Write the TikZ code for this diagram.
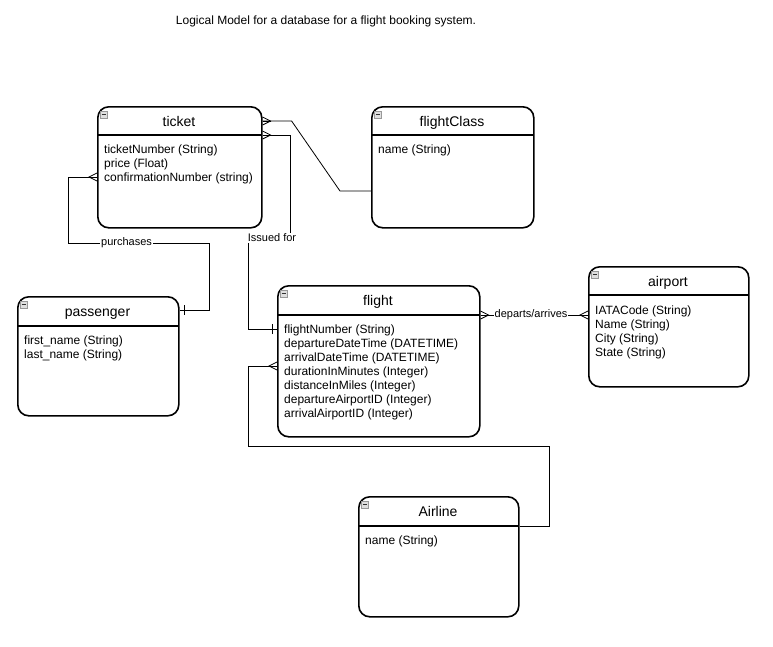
\documentclass[tikz,border=0pt]{standalone}
\usepackage{fontspec}
\setmainfont{Liberation Sans}
\usetikzlibrary{calc}
\tikzset{
  entity/.style={draw, line width=1.6pt, rounded corners=11pt, anchor=north west, inner sep=0pt},
  hdrline/.style={line width=1.6pt},
  hdrtext/.style={anchor=base, inner sep=0pt, font=\fontsize{14}{16}\selectfont},
  attr/.style={anchor=base west, inner sep=0pt, font=\fontsize{12}{14}\selectfont},
  conn/.style={line width=0.8pt},
  lbl/.style={fill=white, inner sep=1pt, font=\fontsize{11}{13}\selectfont},
  iconbox/.style={draw=gray!80, fill=gray!25, line width=0.6pt, minimum size=7pt, inner sep=0pt},
  many/.pic={\draw[line width=0.8pt] (0,0) -- (8,0); \draw[line width=0.8pt] (0,-4) -- (8,0) -- (0,4);},
  one/.pic={\draw[line width=0.8pt] (4.5,-5) -- (4.5,5);}
}
\newcommand\erbox[7]{% name, x, y, w, h, title, header height
  \node[entity, minimum width=#4pt, minimum height=#5pt] (#1) at (#2,#3) {};
  \draw[hdrline] (#2,#3+#7) -- (#2+#4,#3+#7);
  \node[hdrtext] (#1-title) at (#2+#4/2,#3+20.5) {#6};
  \node[iconbox] (#1-icon) at (#2+6.5,#3+8.5) {};
  \draw[line width=0.7pt, gray!40!black] (#2+4.5,#3+8.5) -- (#2+8.5,#3+8.5);
}
\newcommand\erattrs[4]{% name, x, first baseline, list
  \foreach \t [count=\i] in {#4} {\node[attr] (#1-r\i) at (#2,#3+14*\i-14) {\t};}
}
\begin{document}
\begin{tikzpicture}[x=1pt,y=-1pt]
\useasboundingbox (0,0) rectangle (773,646);

\node[anchor=base, inner sep=0pt, font=\fontsize{12}{14}\selectfont] (title) at (326,24.3)
  {Logical Model for a database for a flight booking system.};

\erbox{ticket}{97}{106}{164}{121}{ticket}{29}
\erattrs{ticket}{104}{153.8}{ticketNumber (String), price (Float), confirmationNumber (string)}

\erbox{flightClass}{371}{106}{162}{121}{flightClass}{29}
\erattrs{flightClass}{378}{153.8}{name (String)}

\erbox{passenger}{17}{296}{161}{119}{passenger}{30}
\erattrs{passenger}{24}{344.5}{first\_name (String), last\_name (String)}

\erbox{flight}{277}{285}{202}{151}{flight}{30}
\erattrs{flight}{284}{333.5}{flightNumber (String), departureDateTime (DATETIME), arrivalDateTime (DATETIME), durationInMinutes (Integer), distanceInMiles (Integer), departureAirportID (Integer), arrivalAirportID (Integer)}

\erbox{airport}{588}{266}{160}{120}{airport}{29}
\erattrs{airport}{595}{314.3}{IATACode (String), Name (String), City (String), State (String)}

\erbox{Airline}{358}{496}{160}{120}{Airline}{30}
\erattrs{Airline}{365}{544.5}{name (String)}

% ticket -- flightClass
\coordinate (c1a) at ($(ticket.north east)+(0,15)$);
\coordinate (c1b) at ($(flightClass.north west)+(0,85)$);
\draw[conn] (c1a) -- ++(29,0) -- ($(c1b)+(-31,0)$) -- (c1b);
\pic at (c1a) {many};

% ticket -- flight (issued for)
\coordinate (c2a) at ($(ticket.north east)+(0,29)$);
\coordinate (c2b) at ($(flight.north west)+(0,44)$);
\draw[conn] (c2a) -- ++(28,0) |- ($(c2b)+(-29,-91)$) |- (c2b);
\node[lbl] (l2) at ($(c2b)+(-5,-91)$) {Issued for};
\pic at (c2a) {many};
\pic[rotate=180] at (c2b) {one};

% ticket -- passenger (purchases)
\coordinate (c3a) at ($(ticket.north west)+(0,71)$);
\coordinate (c3b) at ($(passenger.north east)+(0,14)$);
\draw[conn] (c3a) -- ++(-29,0) |- ($(c3b)+(30,-67)$) |- (c3b);
\node[lbl] (l3) at ($(c3b)+(-53,-67)$) {purchases};
\pic[rotate=180] at (c3a) {many};
\pic at (c3b) {one};

% flight -- airport (departs/arrives)
\coordinate (c4a) at ($(flight.north east)+(0,30)$);
\coordinate (c4b) at ($(airport.north west)+(0,49)$);
\draw[conn] (c4a) -- (c4b);
\node[lbl] (l4) at ($(c4a)!0.47!(c4b)$) {departs/arrives};
\pic at (c4a) {many};
\pic[rotate=180] at (c4b) {many};

% flight -- Airline
\coordinate (c5a) at ($(flight.north west)+(0,81)$);
\coordinate (c5b) at ($(Airline.north east)+(0,30)$);
\draw[conn] (c5a) -- ++(-29,0) |- ($(c5b)+(30,-80)$) |- (c5b);
\pic[rotate=180] at (c5a) {many};
\end{tikzpicture}
\end{document}
